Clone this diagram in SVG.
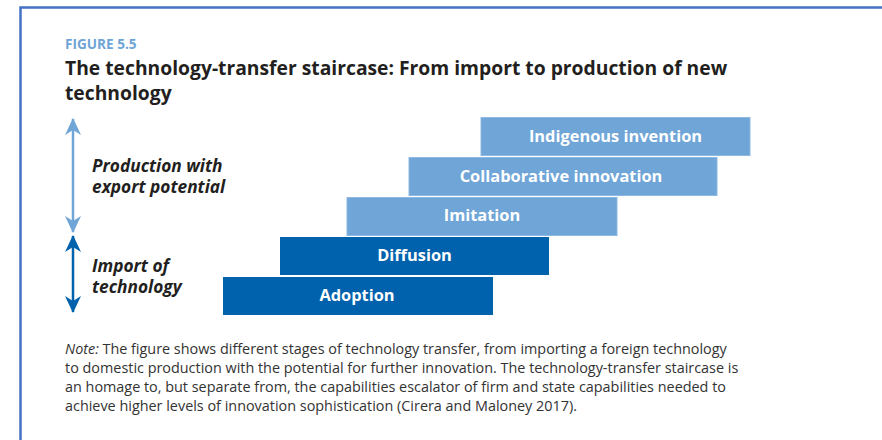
<svg xmlns="http://www.w3.org/2000/svg" width="882" height="440" viewBox="0 0 882 440">
  <style>
    .frame { stroke: #4472C4; stroke-width: 2.5; fill: none; }
    .kicker { font-family: "Open Sans", "Liberation Sans", sans-serif; font-weight: bold; font-size: 13.6px; fill: #6FA4D6; }
    .title { font-family: "Open Sans", "Liberation Sans", sans-serif; font-weight: bold; font-size: 19.3px; fill: #231F20; }
    .side { font-family: "Open Sans", "Liberation Sans", sans-serif; font-weight: bold; font-style: italic; font-size: 17.3px; fill: #231F20; }
    .step-dark { fill: #0062AC; }
    .step-light { fill: #6FA5D7; stroke: #8DB9E2; stroke-width: 1; }
    .step-label { font-family: "Open Sans", "Liberation Sans", sans-serif; font-weight: bold; font-size: 16.4px; fill: #FFFFFF; text-anchor: middle; }
    .note { font-family: "Open Sans", "Liberation Sans", sans-serif; font-size: 14.4px; fill: #333333; }
    .shaft-light { stroke: #6FA5D7; stroke-width: 2.5; }
    .shaft-dark { stroke: #0062AC; stroke-width: 2.5; }
  </style>
  <defs>
    <marker id="head-light" viewBox="0 0 17 16" refX="16" refY="8" markerWidth="17" markerHeight="16" markerUnits="userSpaceOnUse" orient="auto-start-reverse">
      <path d="M0,0 L17,8 L0,16 L5,8 Z" fill="#6FA5D7"/>
    </marker>
    <marker id="head-dark" viewBox="0 0 17 16" refX="16" refY="8" markerWidth="17" markerHeight="16" markerUnits="userSpaceOnUse" orient="auto-start-reverse">
      <path d="M0,0 L17,8 L0,16 L5,8 Z" fill="#0062AC"/>
    </marker>
  </defs>

  <rect width="882" height="440" fill="#FFFFFF"/>

  <!-- page frame: top and left rule -->
  <path class="frame" d="M20.5,440 L20.5,7.5 L882,7.5"/>

  <!-- heading -->
  <text class="kicker" x="65" y="49">FIGURE 5.5</text>
  <text class="title" x="65" y="75">The technology-transfer staircase: From import to production of new</text>
  <text class="title" x="65" y="100">technology</text>

  <!-- range arrows -->
  <g id="connectors">
    <line class="shaft-light" x1="73" y1="119" x2="73" y2="232" marker-start="url(#head-light)" marker-end="url(#head-light)"/>
    <line class="shaft-dark" x1="73" y1="236" x2="73" y2="312" marker-start="url(#head-dark)" marker-end="url(#head-dark)"/>
  </g>

  <!-- range labels -->
  <g id="label-export">
    <text class="side" x="92" y="172">Production with</text>
    <text class="side" x="92" y="193">export potential</text>
  </g>
  <g id="label-import">
    <text class="side" x="92" y="272">Import of</text>
    <text class="side" x="92" y="293">technology</text>
  </g>

  <!-- staircase steps -->
  <g id="step-indigenous">
    <rect class="step-light" x="481" y="117.5" width="269" height="38"/>
    <text class="step-label" x="615.5" y="142">Indigenous invention</text>
  </g>
  <g id="step-collaborative">
    <rect class="step-light" x="409" y="157.5" width="308" height="38"/>
    <text class="step-label" x="561" y="182">Collaborative innovation</text>
  </g>
  <g id="step-imitation">
    <rect class="step-light" x="347" y="197.5" width="270" height="38"/>
    <text class="step-label" x="482" y="221">Imitation</text>
  </g>
  <g id="step-diffusion">
    <rect class="step-dark" x="280" y="237" width="269" height="38"/>
    <text class="step-label" x="414.5" y="261">Diffusion</text>
  </g>
  <g id="step-adoption">
    <rect class="step-dark" x="223" y="277" width="270" height="38"/>
    <text class="step-label" x="357" y="301">Adoption</text>
  </g>

  <!-- note -->
  <text class="note" x="65" y="354"><tspan font-style="italic">Note:</tspan> The figure shows different stages of technology transfer, from importing a foreign technology</text>
  <text class="note" x="65" y="373">to domestic production with the potential for further innovation. The technology-transfer staircase is</text>
  <text class="note" x="65" y="392">an homage to, but separate from, the capabilities escalator of firm and state capabilities needed to</text>
  <text class="note" x="65" y="411">achieve higher levels of innovation sophistication (Cirera and Maloney 2017).</text>
</svg>
